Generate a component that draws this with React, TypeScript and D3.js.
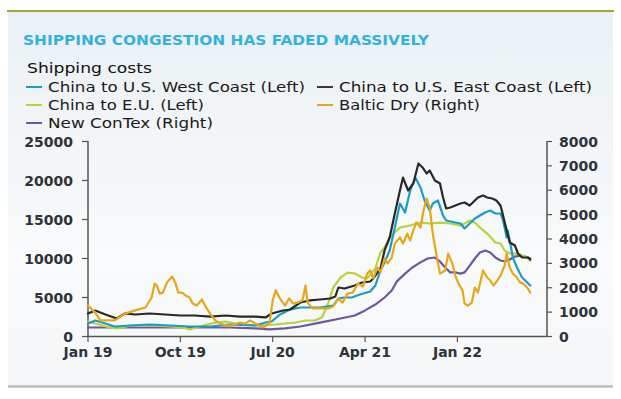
import React from "react";
import * as d3 from "d3";

// months since Jan 2019
const tickMonths = [0, 9, 18, 27, 36];
const tickLabels = ["Jan 19", "Oct 19", "Jul 20", "Apr 21", "Jan 22"];
const leftTicks = [0, 5000, 10000, 15000, 20000, 25000];
const rightTicks = [0, 1000, 2000, 3000, 4000, 5000, 6000, 7000, 8000];

const westCoast: [number, number][] = [
  [0, 1670], [0.7, 2050], [1.7, 1670], [2.6, 1280], [4.1, 1410], [6.0, 1540], [8.0, 1410],
  [9.9, 1280], [11.9, 1280], [13.8, 1540], [16.3, 1410], [17.3, 1790], [17.9, 1920],
  [18.7, 2820], [19.7, 3460], [20.7, 3720], [21.6, 3720], [22.6, 3720], [23.9, 3970],
  [24.4, 4870], [25.0, 5000], [25.7, 5000], [26.5, 5380], [27.5, 5770], [28.0, 6540],
  [28.5, 8460], [28.9, 9490], [29.4, 11030], [29.9, 13970], [30.4, 17050], [30.9, 15900],
  [31.4, 18720], [31.9, 20380], [32.4, 19100], [32.8, 17440], [33.3, 16150], [33.6, 17050],
  [34.1, 17440], [34.6, 15510], [34.9, 14870], [35.8, 14610], [36.3, 14490], [36.7, 13850],
  [37.2, 14490], [37.7, 15130], [38.7, 15900], [39.2, 16150], [39.7, 15770], [40.2, 15770],
  [40.4, 15130], [40.6, 13970], [40.8, 12690], [40.9, 13590], [41.1, 12310], [41.4, 10130],
  [41.8, 8850], [42.3, 7560], [42.8, 6920], [43.1, 6540],
];

const eastCoast: [number, number][] = [
  [0, 2950], [0.7, 3330], [1.7, 2820], [2.8, 2300], [3.6, 2950], [4.6, 2820], [6.0, 2950],
  [7.5, 2820], [9.0, 2690], [10.4, 2690], [11.9, 2560], [13.4, 2690], [14.8, 2560],
  [16.3, 2560], [17.3, 2440], [17.9, 2950], [19.0, 3330], [19.7, 3460], [20.7, 4360],
  [21.6, 4620], [22.6, 4740], [23.6, 4870], [24.1, 5130], [24.4, 6280], [25.0, 6150],
  [26.0, 6540], [26.7, 6920], [27.5, 7050], [27.8, 7440], [28.5, 8720], [28.9, 11030],
  [29.4, 12690], [29.9, 15770], [30.4, 18720], [30.7, 20380], [31.0, 19360], [31.2, 18720],
  [31.7, 19620], [32.2, 22180], [32.6, 21670], [33.0, 20900], [33.3, 21280], [33.8, 20000],
  [34.3, 19620], [34.6, 17820], [34.9, 16410], [35.3, 16540], [35.8, 16790], [36.3, 17050],
  [36.7, 17180], [37.2, 16790], [38.0, 17820], [38.5, 18080], [38.9, 17820], [39.4, 17690],
  [39.8, 17440], [40.2, 16790], [40.4, 15770], [40.8, 13590], [41.1, 12050], [41.6, 11670],
  [41.9, 10640], [42.3, 10130], [42.9, 10130], [43.1, 9870],
];

const chinaEU: [number, number][] = [
  [0, 1920], [0.7, 1670], [2.1, 1150], [2.9, 1030], [4.1, 1410], [6.0, 1410], [8.0, 1280],
  [9.3, 1150], [9.9, 900], [10.9, 1280], [12.4, 1790], [13.4, 1920], [14.8, 1540],
  [16.8, 1410], [18.2, 1540], [19.2, 1670], [20.2, 1790], [21.2, 2050], [22.1, 2050],
  [22.8, 2440], [23.4, 4230], [23.9, 6280], [24.6, 7560], [25.3, 8200], [26.0, 8080],
  [26.7, 7560], [27.2, 7440], [28.0, 8720], [28.5, 10770], [28.9, 11410], [29.4, 12690],
  [29.9, 13330], [30.4, 13970], [31.4, 14230], [32.4, 14610], [33.3, 14490], [34.3, 14610],
  [35.3, 14490], [36.3, 14230], [36.7, 14490], [37.2, 14870], [37.7, 14610], [38.2, 13970],
  [38.9, 13200], [39.7, 12050], [40.2, 11920], [40.6, 11030], [41.1, 10640], [41.6, 10640],
  [42.1, 10510], [42.6, 10260], [43.1, 9740],
];

const balticDry: [number, number][] = [
  [0, 1270], [0.7, 980], [1.2, 660], [2.6, 660], [3.6, 940], [4.6, 1070], [5.6, 1190],
  [6.2, 1600], [6.5, 2170], [6.7, 2090], [7.0, 1760], [7.3, 1800], [7.7, 2220], [8.2, 2460],
  [8.5, 2220], [8.8, 1800], [9.2, 1800], [9.5, 1680], [9.9, 1600], [10.2, 1350], [10.6, 1270],
  [11.1, 1520], [11.4, 1270], [11.9, 940], [12.4, 660], [12.9, 530], [13.5, 450], [14.0, 450],
  [14.8, 570], [15.3, 530], [15.8, 660], [16.3, 530], [17.0, 370], [17.4, 450], [17.7, 570],
  [18.0, 1480], [18.3, 1890], [18.7, 1560], [19.2, 1270], [19.6, 1560], [20.0, 1350],
  [20.4, 1390], [20.9, 1480], [21.2, 2090], [21.4, 1390], [21.9, 1150], [22.6, 1150],
  [23.4, 1150], [23.9, 1230], [24.4, 1560], [24.8, 1390], [25.3, 1760], [25.8, 1800],
  [26.3, 2170], [26.8, 2050], [27.2, 2580], [27.5, 2710], [27.8, 2380], [28.2, 2830],
  [28.5, 2630], [28.9, 3200], [29.2, 3000], [29.6, 3240], [29.9, 3810], [30.4, 4060],
  [30.7, 3810], [31.1, 4220], [31.4, 3940], [31.7, 4350], [32.0, 4680], [32.4, 4470],
  [32.7, 5170], [33.0, 5660], [33.3, 5290], [33.6, 4220], [34.0, 3240], [34.3, 2580],
  [34.8, 2710], [35.1, 3400], [35.5, 3000], [35.8, 2500], [36.1, 2170], [36.5, 1890],
  [36.7, 1350], [37.0, 1270], [37.4, 1390], [37.7, 2010], [38.0, 1800], [38.2, 2170],
  [38.5, 2710], [38.9, 2420], [39.2, 2300], [39.5, 2090], [39.9, 2300], [40.2, 2500],
  [40.6, 2910], [40.8, 3400], [41.1, 2830], [41.4, 2580], [41.8, 2420], [42.1, 2220],
  [42.4, 2170], [42.8, 2010], [43.1, 1800],
];

const newContex: [number, number][] = [
  [0, 370], [6.0, 370], [10.9, 370], [13.8, 370], [16.3, 330], [17.7, 290], [19.2, 330],
  [20.7, 410], [22.6, 570], [24.6, 740], [26.0, 860], [27.0, 1070], [28.0, 1310],
  [28.9, 1600], [29.6, 1890], [30.1, 2260], [30.9, 2580], [31.6, 2830], [32.4, 3040],
  [33.1, 3200], [33.8, 3240], [34.3, 3080], [34.8, 2830], [35.3, 2630], [35.8, 2630],
  [36.3, 2580], [36.7, 2630], [37.2, 2910], [37.7, 3200], [38.2, 3450], [38.7, 3530],
  [39.2, 3450], [39.7, 3240], [40.2, 3120], [40.6, 3080], [41.1, 3160], [41.6, 3280],
  [42.1, 3320], [42.6, 3280], [43.1, 3200],
];

const FONT = "'DejaVu Sans', sans-serif";

export default function App() {
  const W = 621, H = 399;
  const x = d3.scaleLinear().domain([0, 44.73]).range([88, 547]);
  const yL = d3.scaleLinear().domain([0, 25000]).range([336.5, 141.5]);
  const yR = d3.scaleLinear().domain([0, 8000]).range([336.5, 141.5]);
  const lineL = d3.line<[number, number]>().x(d => x(d[0])).y(d => yL(d[1]));
  const lineR = d3.line<[number, number]>().x(d => x(d[0])).y(d => yR(d[1]));

  const series = [
    { d: newContex, right: true, color: "#6e56a0" },
    { d: chinaEU, right: false, color: "#b8d23a" },
    { d: westCoast, right: false, color: "#1a9cc6" },
    { d: eastCoast, right: false, color: "#2b2727" },
    { d: balticDry, right: true, color: "#e6a718" },
  ];

  const legend = [
    { label: "China to U.S. West Coast (Left)", color: "#1a9cc6", x: 26, y: 92, w: 257 },
    { label: "China to U.S. East Coast (Left)", color: "#3a3a3a", x: 317, y: 92, w: 253 },
    { label: "China to E.U. (Left)", color: "#b8d23a", x: 26, y: 110, w: 156 },
    { label: "Baltic Dry (Right)", color: "#e6a718", x: 317, y: 110, w: 141 },
    { label: "New ConTex (Right)", color: "#6e56a0", x: 26, y: 128, w: 165 },
  ];

  return (
    <svg width={W} height={H} style={{ position: "absolute", left: 0, top: 0 }} fontFamily={FONT}>
      <defs>
        <linearGradient id="bg" x1="0" y1="0" x2="0" y2="1">
          <stop offset="0%" stopColor="#eaf0f4" />
          <stop offset="65%" stopColor="#f8fafb" />
          <stop offset="100%" stopColor="#f4f6f8" />
        </linearGradient>
      </defs>
      <rect x={0} y={0} width={W} height={H} fill="#ffffff" />
      <rect x={8} y={12} width={605} height={373} fill="url(#bg)" />
      <line x1={7} x2={614} y1={11} y2={11} stroke="#a3a53c" strokeWidth={2} />
      <line x1={8} x2={613} y1={386.5} y2={386.5} stroke="#b7bcc1" strokeWidth={2.5} />

      <text x={23} y={44.5} fill="#33b3dc" fontSize={14.5} fontWeight={700}
        textLength={406} lengthAdjust="spacingAndGlyphs">
        SHIPPING CONGESTION HAS FADED MASSIVELY
      </text>
      <text x={27} y={73} fill="#111" fontSize={14} textLength={125} lengthAdjust="spacingAndGlyphs">
        Shipping costs
      </text>
      {legend.map((l, i) => (
        <g key={i}>
          <line x1={l.x} x2={l.x + 16} y1={l.y - 5} y2={l.y - 5} stroke={l.color} strokeWidth={2} />
          <text x={l.x + 22} y={l.y} fill="#1a1a1a" fontSize={14}
            textLength={l.w} lengthAdjust="spacingAndGlyphs">{l.label}</text>
        </g>
      ))}

      {/* axes */}
      <line x1={88} x2={88} y1={141} y2={337} stroke="#555" strokeWidth={1.5} />
      <line x1={547} x2={547} y1={141} y2={337} stroke="#555" strokeWidth={1.5} />
      <line x1={88} x2={547} y1={336.5} y2={336.5} stroke="#555" strokeWidth={1.5} />
      {leftTicks.map(t => (
        <g key={"l" + t}>
          <line x1={82} x2={88} y1={yL(t)} y2={yL(t)} stroke="#555" strokeWidth={1.2} />
          <text x={73} y={yL(t) + 5} textAnchor="end" fill="#2d3338" fontSize={14} fontWeight={700}>{t}</text>
        </g>
      ))}
      {rightTicks.map(t => (
        <g key={"r" + t}>
          <line x1={547} x2={552} y1={yR(t)} y2={yR(t)} stroke="#555" strokeWidth={1.2} />
          <text x={559} y={yR(t) + 5} textAnchor="start" fill="#2d3338" fontSize={14} fontWeight={700}>{t}</text>
        </g>
      ))}
      {tickMonths.map((m, i) => (
        <g key={"x" + m}>
          <line x1={x(m)} x2={x(m)} y1={336.5} y2={342} stroke="#555" strokeWidth={1.2} />
          <text x={x(m)} y={357} textAnchor="middle" fill="#2d3338" fontSize={14} fontWeight={700}>{tickLabels[i]}</text>
        </g>
      ))}

      {series.map((s, i) => (
        <path key={i} d={(s.right ? lineR : lineL)(s.d) || ""} fill="none" stroke={s.color}
          strokeWidth={2.2} strokeLinejoin="round" strokeLinecap="round" />
      ))}
    </svg>
  );
}
